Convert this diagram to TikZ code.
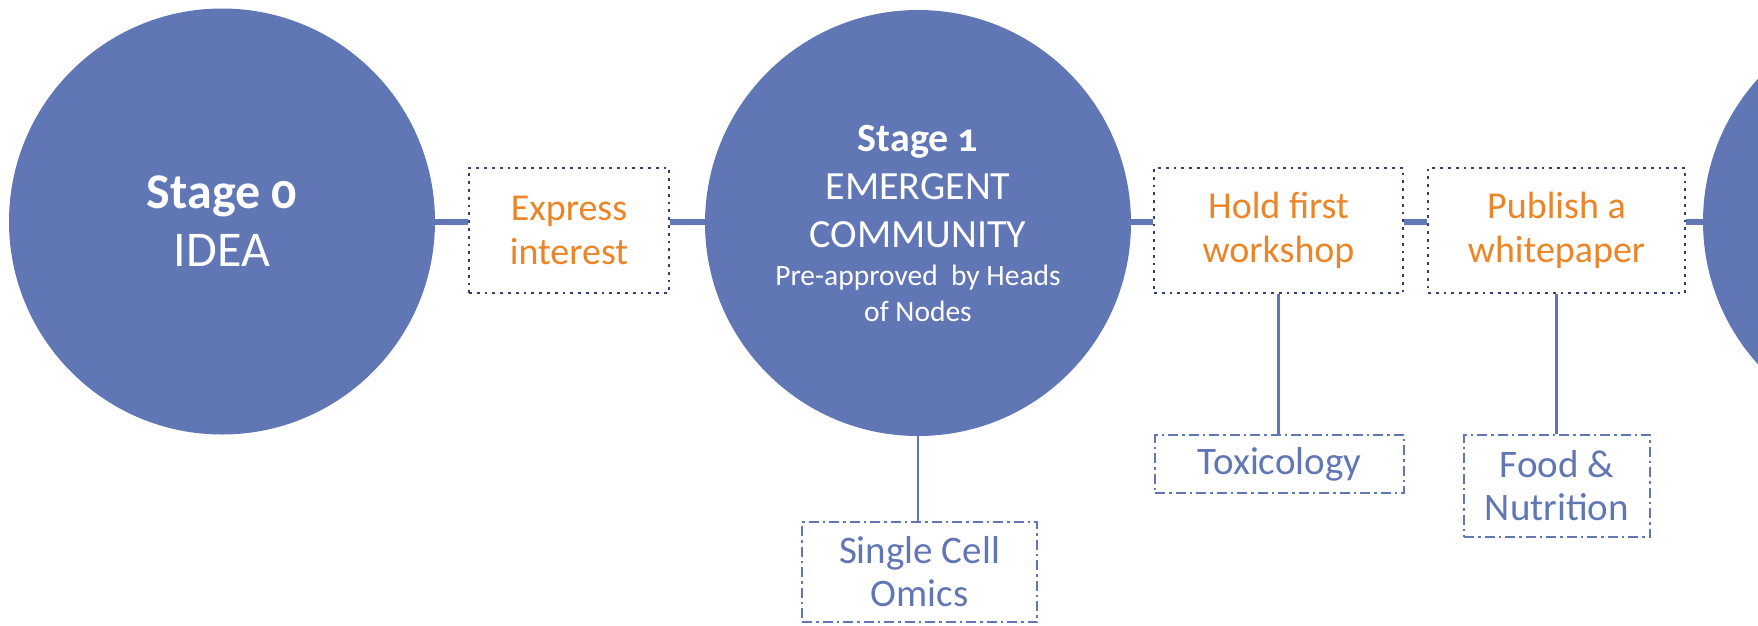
\documentclass[tikz,border=0pt]{standalone}
\usepackage{fontspec}
\setmainfont{Carlito}[Numbers=OldStyle]
\usepackage{xcolor}
\definecolor{stageblue}{RGB}{97,118,180}
\definecolor{actorange}{RGB}{235,133,39}
\definecolor{dotnavy}{RGB}{52,64,112}

\begin{document}
\begin{tikzpicture}[x=1pt, y=-1pt,
  stage/.style={circle, fill=stageblue, minimum size=426pt, inner sep=0pt, text=white, align=center},
  action/.style={draw=dotnavy, line width=2.8pt, dash pattern=on 2.8pt off 5pt, text=actorange, align=center, inner sep=0pt, minimum height=125pt, font=\fontsize{38}{44}\selectfont},
  topic/.style={draw=stageblue, line width=2pt, dash pattern=on 10pt off 4pt on 2.5pt off 4pt, text=stageblue, align=center, inner sep=0pt, font=\fontsize{39}{43}\selectfont},
  mainline/.style={draw=stageblue, line width=6pt},
  branch/.style={draw=stageblue, line width=2.5pt}]
\useasboundingbox (0,0) rectangle (1758,625);

\node[stage, font=\fontsize{50}{58}\selectfont] at (222,221.5) (s0) {{\bfseries Stage 0}\\IDEA};
\node[stage, font=\fontsize{40}{48}\selectfont] at (918,223) (s1) {{\bfseries Stage 1}\\EMERGENT\\COMMUNITY\\[-10pt]{\fontsize{29.5}{36}\selectfont Pre-approved~ by Heads}\\[-12pt]{\fontsize{29.5}{36}\selectfont of Nodes}};
\node[stage] at (1916,221.5) (s2) {};

\node[action, minimum width=200pt] at (569,230.5) (express) {Express\\interest};
\node[action, minimum width=249pt] at (1278.5,230.5) (hold) {Hold first\\workshop};
\node[action, minimum width=257pt] at (1556.5,230.5) (publish) {Publish a\\whitepaper};

\node[topic, minimum width=235pt, minimum height=100pt] at (919.5,572) (cell) {Single Cell\\Omics};
\node[topic, minimum width=249pt, minimum height=58pt] at (1279.5,464) (toxic) {Toxicology};
\node[topic, minimum width=186pt, minimum height=102pt] at (1557,486) (food) {Food \&\\Nutrition};

\path[mainline] (s0.east) -- (s0.east -| express.west);
\path[mainline] (s0.east -| express.east) -- (s0.east -| s1.west);
\path[mainline] (s0.east -| s1.east) -- (s0.east -| hold.west);
\path[mainline] (s0.east -| hold.east) -- (s0.east -| publish.west);
\path[mainline] (s2.west -| publish.east) -- (s2.west);

\path[branch] (s1.south) -- (s1.south |- cell.north);
\path[branch] (hold.south) -- (hold.south |- toxic.north);
\path[branch] (publish.south) -- (publish.south |- food.north);

\end{tikzpicture}
\end{document}
